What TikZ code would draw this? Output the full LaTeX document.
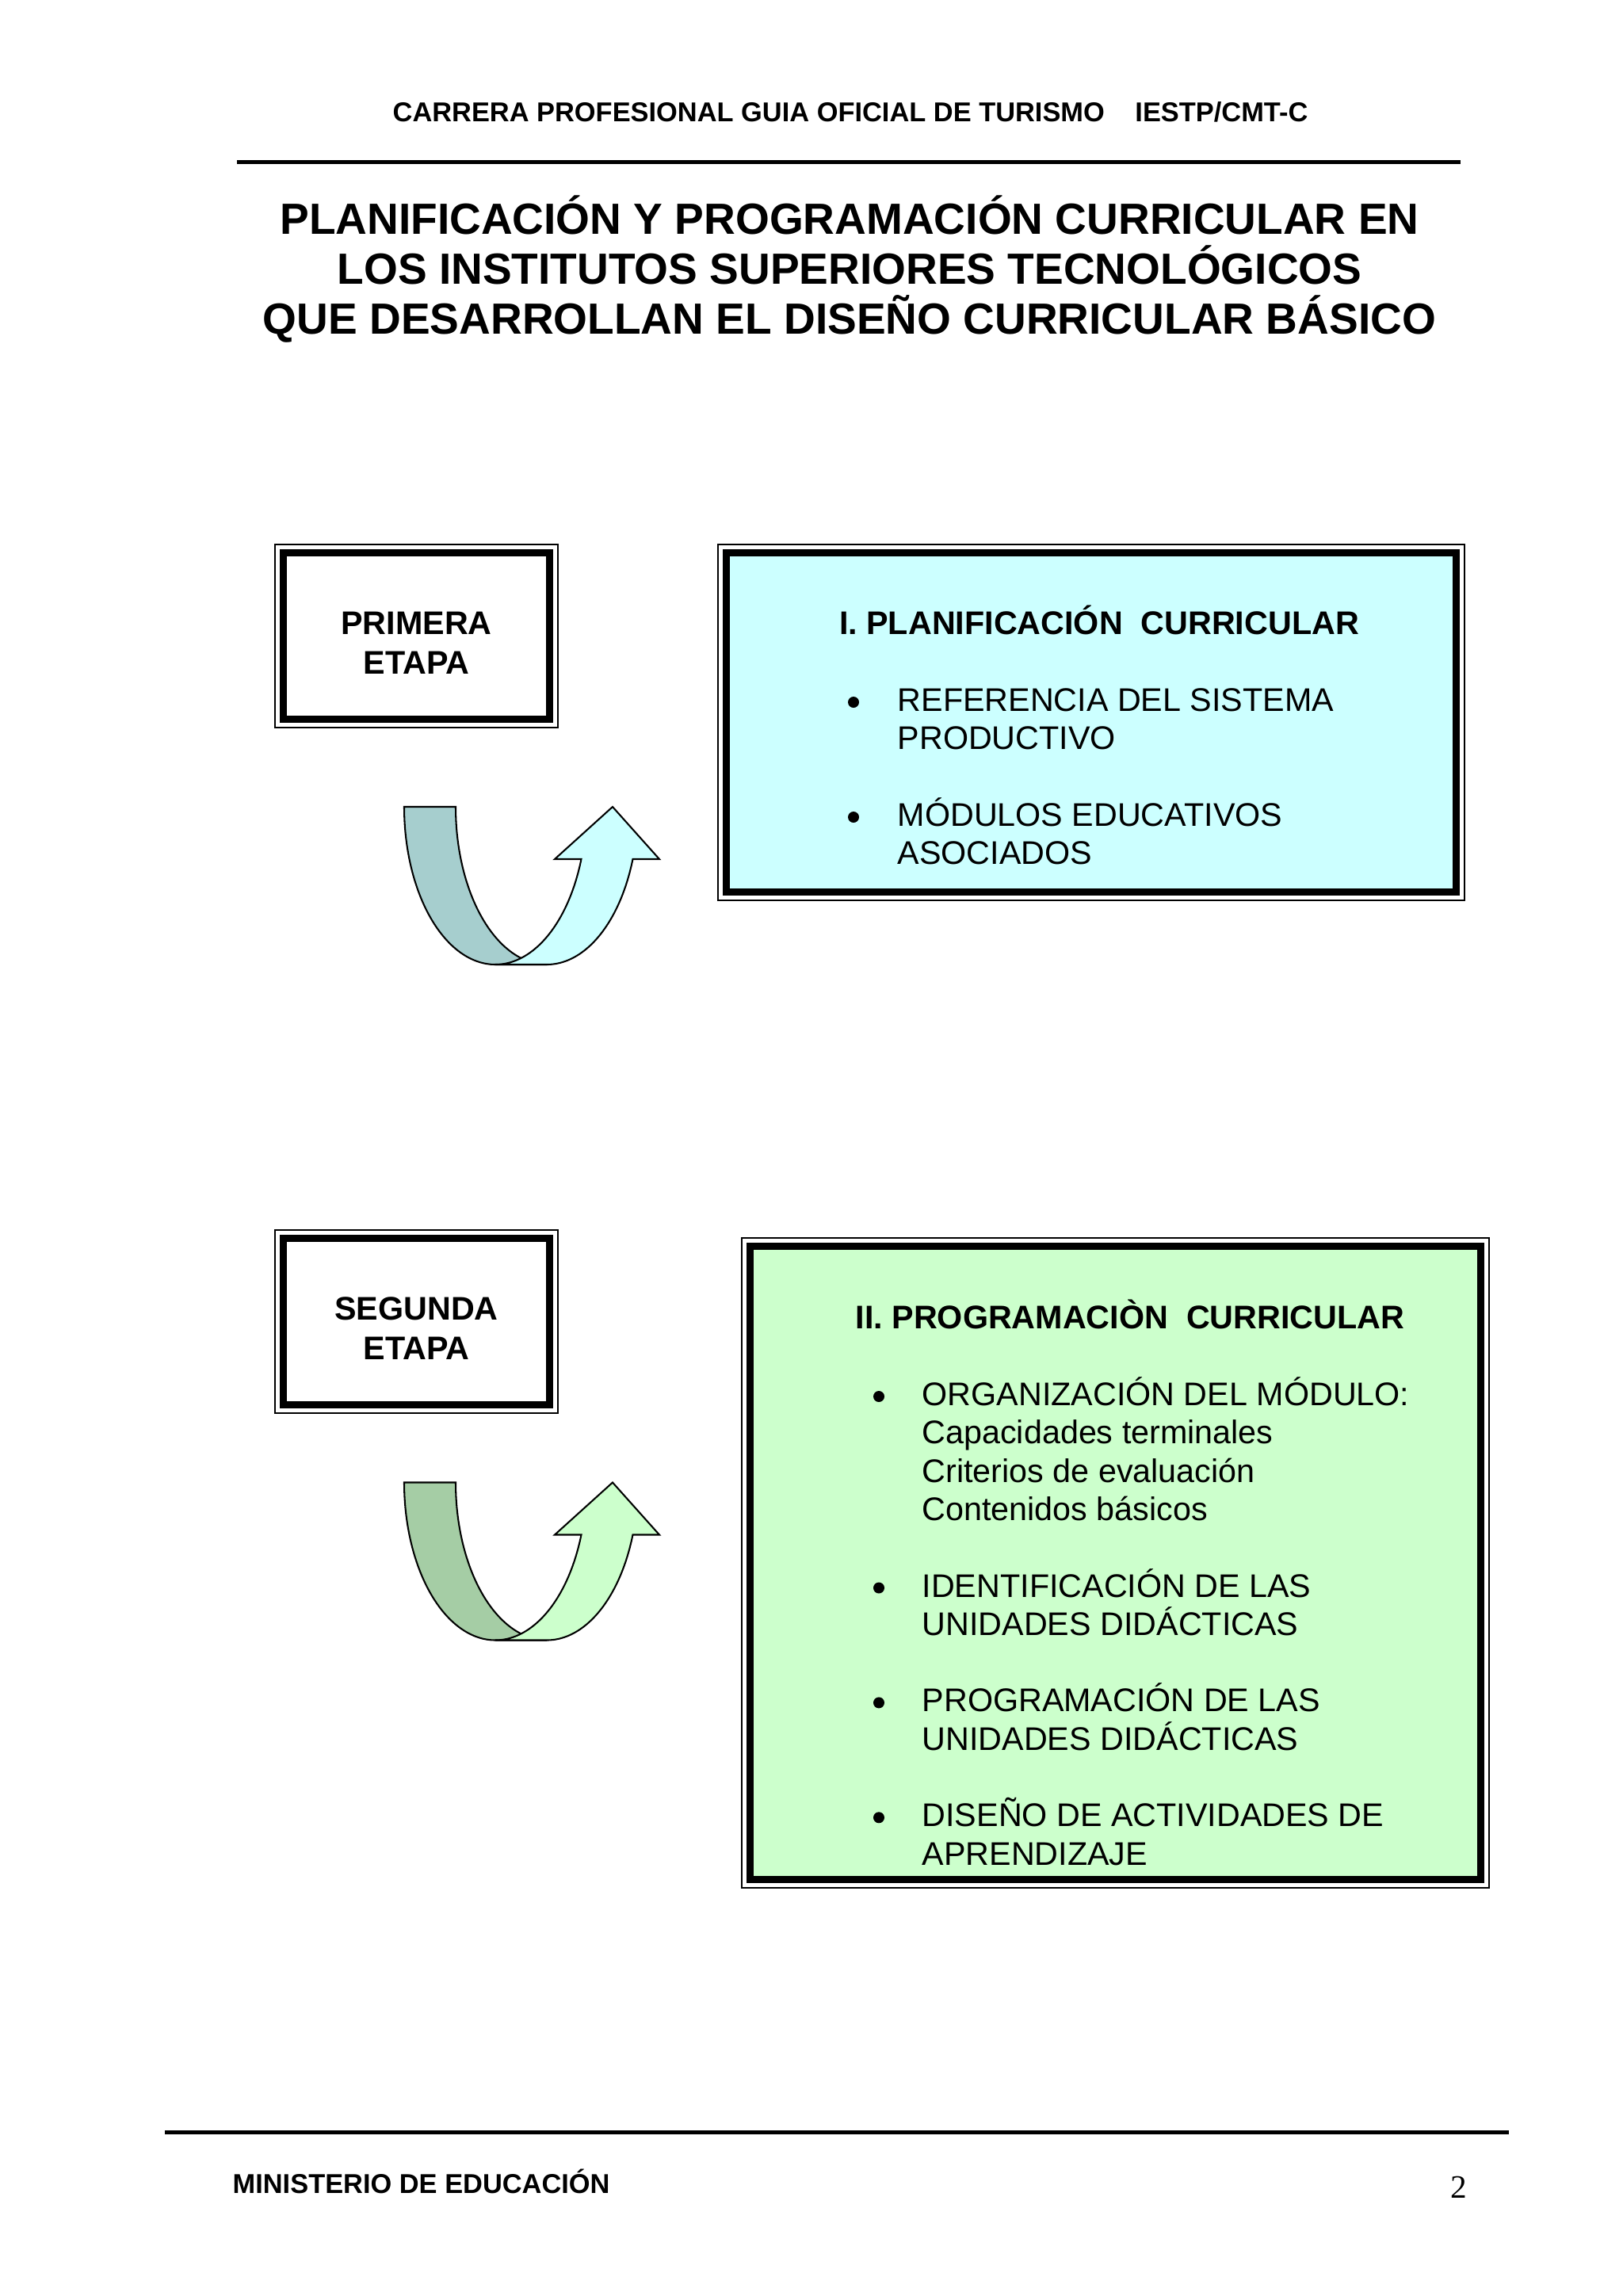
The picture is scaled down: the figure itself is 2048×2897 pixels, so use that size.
\documentclass[tikz,border=0pt]{standalone}
\usepackage{fontspec}
\setmainfont{Liberation Sans}
\newfontfamily\pagenumfont{Liberation Serif}
\definecolor{cyanfill}{HTML}{CCFFFF}
\definecolor{tealdark}{HTML}{A6CECE}
\definecolor{greenfill}{HTML}{CCFFCC}
\definecolor{greendark}{HTML}{A5CDA5}
\newcommand\uturnarrow[3]{%
  % left band
  \filldraw[arrowline, fill=#2] (510,#1) -- plot[domain=180:90,samples=60] ({625+115*cos(\x)},{#1+199*sin(\x)})
     -- (690,#1+199) -- plot[domain=90:180,samples=60] ({690+115*cos(\x)},{#1+199*sin(\x)}) -- cycle;
  % right band with head
  \filldraw[arrowline, fill=#3] (625,#1+199) -- plot[domain=90:19.37,samples=60] ({625+115*cos(\x)},{#1+199*sin(\x)})
     -- (700,#1+66) -- (773,#1) -- (832,#1+66)
     -- plot[domain=19.37:90,samples=60] ({690+115*cos(\x)},{#1+199*sin(\x)}) -- cycle;
}
\begin{document}
\begin{tikzpicture}[x=0.2907pt,y=-0.2907pt,
  txt/.style={inner sep=0pt, anchor=base west},
  ctxt/.style={inner sep=0pt, anchor=base},
  thinframe/.style={draw=black, line width=0.6pt},
  thickframe/.style={draw=black, line width=2.75pt},
  arrowline/.style={draw=black, line width=0.6pt},
  rulefill/.style={fill=black},
  header/.style={font=\fontsize{10pt}{12pt}\selectfont\bfseries},
  titlef/.style={font=\fontsize{16pt}{18.4pt}\selectfont\bfseries},
  boldtwelve/.style={font=\fontsize{12pt}{14pt}\selectfont\bfseries},
  twelve/.style={font=\fontsize{12pt}{14pt}\selectfont},
  bulletdot/.style={fill=black, draw=none}
]
\useasboundingbox (0,0) rectangle (2048,2897);
\fill[white] (0,0) rectangle (2048,2897);

% header
\node[txt, header] (hdrA) at (495,153) {CARRERA PROFESIONAL GUIA OFICIAL DE TURISMO};
\node[txt, header, anchor=base east] (hdrB) at (1651,153) {IESTP/CMT-C};
\fill[rulefill] (299,202) rectangle (1843,207);

% title
\node[ctxt, titlef] (t1) at (1072,295) {PLANIFICACIÓN Y PROGRAMACIÓN CURRICULAR EN};
\node[ctxt, titlef] (t2) at (1072,358) {LOS INSTITUTOS SUPERIORES TECNOLÓGICOS};
\node[ctxt, titlef] (t3) at (1072,421) {QUE DESARROLLAN EL DISEÑO CURRICULAR BÁSICO};

% primera etapa
\draw[thinframe] (347,687) rectangle (704,918);
\draw[thickframe, fill=white] (357.5,697.5) rectangle (693.5,907.5);
\node[ctxt, boldtwelve] (p1) at (525.5,800.5) {PRIMERA};
\node[ctxt, boldtwelve] (p2) at (525.5,850.5) {ETAPA};

% blue box
\draw[thinframe] (906,687) rectangle (1848,1136);
\draw[thickframe, fill=cyanfill] (916.5,697.5) rectangle (1837.5,1125.5);
\node[ctxt, boldtwelve] (bt) at (1387,800) {I. PLANIFICACIÓN\ \ CURRICULAR};
\fill[bulletdot] (1077,886) circle (7);
\node[txt, twelve] (b1a) at (1132,897.5) {REFERENCIA DEL SISTEMA};
\node[txt, twelve] (b1b) at (1132,945.8) {PRODUCTIVO};
\fill[bulletdot] (1077,1031) circle (7);
\node[txt, twelve] (b2a) at (1132,1042.5) {MÓDULOS EDUCATIVOS};
\node[txt, twelve] (b2b) at (1132,1090.8) {ASOCIADOS};

% first arrow
\uturnarrow{1018}{tealdark}{cyanfill}

% segunda etapa
\draw[thinframe] (347,1552) rectangle (704,1783);
\draw[thickframe, fill=white] (357.5,1562.5) rectangle (693.5,1772.5);
\node[ctxt, boldtwelve] (s1) at (525.5,1665.5) {SEGUNDA};
\node[ctxt, boldtwelve] (s2) at (525.5,1715.5) {ETAPA};

% green box
\draw[thinframe] (936,1562) rectangle (1879,2382);
\draw[thickframe, fill=greenfill] (946.5,1572.5) rectangle (1868.5,2371.5);
\node[ctxt, boldtwelve] (gt) at (1426,1676) {II. PROGRAMACIÒN\ \ CURRICULAR};
\fill[bulletdot] (1109,1762) circle (7);
\node[txt, twelve] (g1a) at (1163,1773.5) {ORGANIZACIÓN DEL MÓDULO:};
\node[txt, twelve] (g1b) at (1163,1821.8) {Capacidades terminales};
\node[txt, twelve] (g1c) at (1163,1870.1) {Criterios de evaluación};
\node[txt, twelve] (g1d) at (1163,1918.4) {Contenidos básicos};
\fill[bulletdot] (1109,2003.5) circle (7);
\node[txt, twelve] (g2a) at (1163,2015) {IDENTIFICACIÓN DE LAS};
\node[txt, twelve] (g2b) at (1163,2063.3) {UNIDADES DIDÁCTICAS};
\fill[bulletdot] (1109,2148.4) circle (7);
\node[txt, twelve] (g3a) at (1163,2159.9) {PROGRAMACIÓN DE LAS};
\node[txt, twelve] (g3b) at (1163,2208.2) {UNIDADES DIDÁCTICAS};
\fill[bulletdot] (1109,2293.3) circle (7);
\node[txt, twelve] (g4a) at (1163,2304.8) {DISEÑO DE ACTIVIDADES DE};
\node[txt, twelve] (g4b) at (1163,2353.1) {APRENDIZAJE};

% second arrow
\uturnarrow{1870.5}{greendark}{greenfill}

% footer
\fill[rulefill] (208,2688) rectangle (1904,2692.5);
\node[txt, header] (foot) at (293,2767) {MINISTERIO DE EDUCACIÓN};
\node[inner sep=0pt, anchor=base east, font=\pagenumfont\fontsize{12pt}{14pt}\selectfont] (pnum) at (1852,2773) {2};
\end{tikzpicture}
\end{document}
